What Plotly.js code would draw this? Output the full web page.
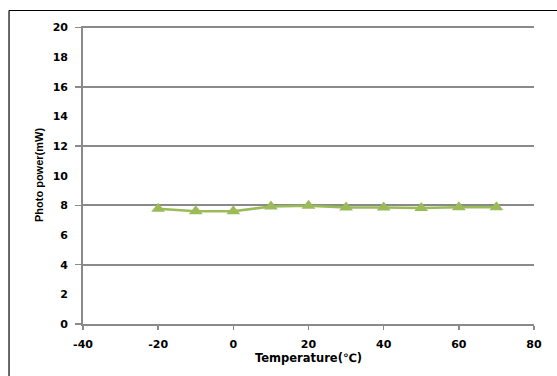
<!DOCTYPE html>
<html>
<head>
<meta charset="utf-8">
<script src="https://cdn.plot.ly/plotly-3.0.1.min.js"></script>
<style>html,body{margin:0;padding:0;background:#fff;}#chart{width:557px;height:376px;}</style>
</head>
<body>
<div id="chart"></div>
<script>
const temperature = [-20, -10, 0, 10, 20, 30, 40, 50, 60, 70];
const photoPower = [7.78, 7.6, 7.6, 7.93, 7.97, 7.86, 7.86, 7.82, 7.87, 7.87];
const xTicks = [-40, -20, 0, 20, 40, 60, 80];
const yLabelTicks = [0, 2, 4, 6, 8, 10, 12, 14, 16, 18, 20];
const yGridTicks = [0, 4, 8, 12, 16, 20];

const tickFont = {family: 'DejaVu Sans, Verdana, sans-serif', size: 11, color: '#000', weight: 'bold'};

const data = [
  {
    x: temperature, y: photoPower,
    type: 'scatter', mode: 'lines+markers',
    line: {color: '#9BBB59', width: 2.5},
    marker: {symbol: 'triangle-up', size: 12, color: '#9BBB59'},
    showlegend: false, hoverinfo: 'skip'
  },
  {
    // anchors the label axis so its tick labels are drawn
    x: [xTicks[0]], y: [yLabelTicks[0]], yaxis: 'y2',
    type: 'scatter', mode: 'markers', marker: {opacity: 0},
    showlegend: false, hoverinfo: 'skip'
  }
];

const yRange = [0, 20.1];

const layout = {
  width: 557, height: 376,
  margin: {l: 83, r: 23, t: 25.5, b: 52},
  paper_bgcolor: '#fff', plot_bgcolor: '#fff',
  xaxis: {
    range: [-40, 80], tickvals: xTicks, ticktext: xTicks.map(String),
    showgrid: false, zeroline: false,
    showline: true, linecolor: '#8a8a8a', linewidth: 2,
    ticks: 'outside', ticklen: 4, tickcolor: '#8a8a8a', tickwidth: 1.5,
    ticklabelstandoff: 5,
    tickfont: tickFont,
    title: {text: 'Temperature(℃)', font: {family: 'DejaVu Sans, Verdana, sans-serif', size: 11.5, color: '#000', weight: 'bold'}, standoff: 3}
  },
  yaxis: {
    range: yRange, tickvals: yGridTicks,
    showticklabels: false,
    showgrid: true, gridcolor: '#8a8a8a', gridwidth: 2,
    zeroline: false,
    showline: true, linecolor: '#8a8a8a', linewidth: 2,
    ticks: 'outside', ticklen: 6, tickcolor: '#8a8a8a', tickwidth: 1.5
  },
  yaxis2: {
    overlaying: 'y', side: 'left', anchor: 'x',
    range: yRange, tickvals: yLabelTicks, ticktext: yLabelTicks.map(String),
    showgrid: false, zeroline: false, showline: false,
    ticks: '', ticklabelstandoff: 14,
    tickfont: tickFont,
    title: {text: 'Photo power(mW)', font: {family: 'Liberation Sans, Arial, sans-serif', size: 11, color: '#000', weight: 'bold'}, standoff: 6}
  },
  shapes: [
    {type: 'line', xref: 'paper', yref: 'paper', x0: -0.164, x1: 1.06, y0: 1.052, y1: 1.052, line: {color: '#000', width: 1.2}},
    {type: 'line', xref: 'paper', yref: 'paper', x0: -0.164, x1: -0.164, y0: 1.052, y1: -0.2, line: {color: '#000', width: 1.2}}
  ]
};

Plotly.newPlot('chart', data, layout, {displayModeBar: false, staticPlot: true});
</script>
</body>
</html>
